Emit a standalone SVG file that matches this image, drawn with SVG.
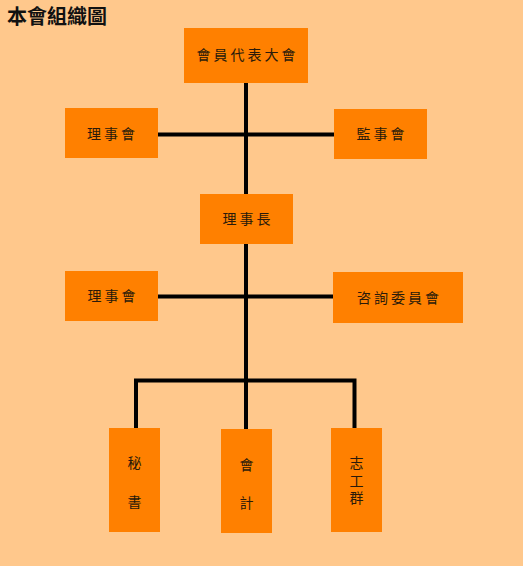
<svg xmlns="http://www.w3.org/2000/svg" width="523" height="566" viewBox="0 0 523 566">
<style>
.box{fill:#FF8000}
.t{font-family:"Noto Sans CJK TC","Noto Sans CJK SC",serif;font-size:14px;fill:#2a1a0a;text-anchor:middle;letter-spacing:3px}
.v{font-family:"Noto Sans CJK TC","Noto Sans CJK SC",serif;font-size:14px;fill:#2a1a0a;text-anchor:middle}
.ln{stroke:#000;stroke-width:4;fill:none}
</style>
<rect width="523" height="566" fill="#FFC88C"/>
<text x="7" y="24" font-family="'Noto Sans CJK TC','Noto Sans CJK SC',serif" font-size="20" font-weight="bold" fill="#111">本會組織圖</text>
<g id="connectors">
<path class="ln" d="M246 83 V381"/>
<path class="ln" d="M158 134.5 H334"/>
<path class="ln" d="M158 296.5 H333"/>
<path class="ln" d="M136 428 V380.5 H354.5 V428"/>
<path class="ln" d="M246 380 V429"/>
</g>
<g id="n1"><rect class="box" x="184" y="28" width="124" height="55"/><text class="t" x="247.5" y="60">會員代表大會</text></g>
<g id="n2"><rect class="box" x="65" y="108" width="93" height="50"/><text class="t" x="112.5" y="139">理事會</text></g>
<g id="n3"><rect class="box" x="334" y="109" width="93" height="50"/><text class="t" x="382" y="139">監事會</text></g>
<g id="n4"><rect class="box" x="200" y="194" width="93" height="50"/><text class="t" x="248" y="224">理事長</text></g>
<g id="n5"><rect class="box" x="65" y="271" width="93" height="50"/><text class="t" x="113" y="301">理事會</text></g>
<g id="n6"><rect class="box" x="333" y="272" width="130" height="51"/><text class="t" x="399.5" y="303">咨詢委員會</text></g>
<g id="n7"><rect class="box" x="109" y="428" width="51" height="104"/><text class="v" x="134.5" y="468">秘</text><text class="v" x="134.5" y="507">書</text></g>
<g id="n8"><rect class="box" x="221" y="429" width="51" height="104"/><text class="v" x="246.5" y="470">會</text><text class="v" x="246.5" y="508">計</text></g>
<g id="n9"><rect class="box" x="331" y="428" width="51" height="104"/><text x="356.5" y="456" writing-mode="vertical-rl" font-family="'Noto Sans CJK TC','Noto Sans CJK SC',serif" font-size="14" fill="#2a1a0a" letter-spacing="3.5">志工群</text></g>
</svg>
